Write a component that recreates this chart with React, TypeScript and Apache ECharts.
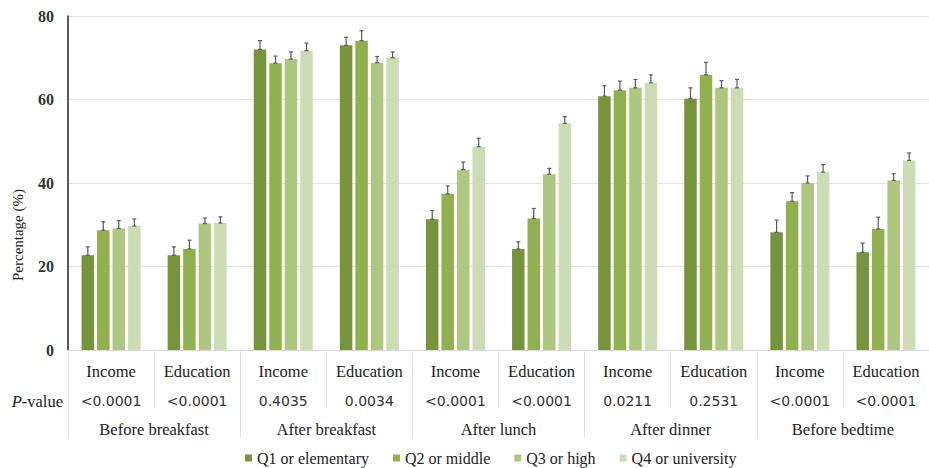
import React, { useEffect, useRef } from "react";
import * as echarts from "echarts";

const groups = ["Before breakfast", "After breakfast", "After lunch", "After dinner", "Before bedtime"];
const subCategories = ["Income", "Education", "Income", "Education", "Income", "Education", "Income", "Education", "Income", "Education"];
const pValues = ["<0.0001", "<0.0001", "0.4035", "0.0034", "<0.0001", "<0.0001", "0.0211", "0.2531", "<0.0001", "<0.0001"];
const seriesNames = ["Q1 or elementary", "Q2 or middle", "Q3 or high", "Q4 or university"];
const colors = ["#77933c", "#92b04f", "#aec67f", "#cddcb5"];

const q1 = [22.7, 22.7, 72.0, 73.0, 31.3, 24.2, 60.8, 60.2, 28.2, 23.4];
const q2 = [28.7, 24.2, 68.7, 74.1, 37.4, 31.5, 62.2, 65.9, 35.6, 29.0];
const q3 = [29.1, 30.3, 69.7, 68.8, 43.2, 42.1, 62.8, 62.8, 40.0, 40.6];
const q4 = [29.7, 30.4, 71.7, 70.0, 48.7, 54.3, 64.0, 62.8, 42.6, 45.4];

const e1 = [2.0, 2.0, 2.1, 1.9, 2.1, 1.7, 2.5, 2.6, 2.9, 2.2];
const e2 = [2.0, 2.1, 1.7, 2.4, 1.9, 2.4, 2.2, 3.0, 2.1, 2.8];
const e3 = [1.9, 1.3, 1.7, 1.5, 1.8, 1.4, 2.0, 1.7, 1.7, 1.6];
const e4 = [1.7, 1.5, 1.8, 1.4, 2.0, 1.6, 1.9, 2.0, 1.8, 1.8];

const yTicks = { min: 0, max: 80, interval: 20 };

const SERIF = "Liberation Serif";
const SANS = "DejaVu Sans";
const BAR_W = 12.5;
const BAR_GAP = 0.24;

export default function App() {
  const ref = useRef<HTMLDivElement>(null);
  useEffect(() => {
    if (!ref.current) return;
    const chart = echarts.init(ref.current, undefined, { renderer: "svg" });
    const values = [q1, q2, q3, q4];
    const errs = [e1, e2, e3, e4];
    const errData: number[][] = [];
    values.forEach((arr, s) => arr.forEach((v, i) => errData.push([i, v, errs[s][i], s])));

    const step = BAR_W * (1 + BAR_GAP);

    const option: any = {
      animation: false,
      backgroundColor: "#ffffff",
      grid: { left: 68, right: -5, top: 16, bottom: 118 },
      legend: {
        data: seriesNames,
        left: 240,
        top: 445,
        icon: "rect",
        itemWidth: 7,
        itemHeight: 7,
        itemGap: 24,
        textStyle: { fontFamily: SERIF, fontSize: 16, color: "#222" },
      },
      xAxis: [
        {
          type: "category",
          data: subCategories,
          position: "bottom",
          axisLine: { show: true, lineStyle: { color: "#d9d9d9", width: 1 } },
          axisTick: { show: true, length: 58, lineStyle: { color: "#e0e0e0" } },
          axisLabel: { fontFamily: SERIF, fontSize: 16.5, color: "#222", margin: 13, interval: 0 },
        },
        {
          type: "category",
          data: groups,
          position: "bottom",
          axisLine: { show: false },
          axisTick: { show: true, length: 88, lineStyle: { color: "#e0e0e0" } },
          axisLabel: { fontFamily: SERIF, fontSize: 16.5, color: "#222", margin: 71, interval: 0 },
        },
        {
          type: "category",
          data: pValues,
          position: "bottom",
          axisLine: { show: false },
          axisTick: { show: false },
          axisLabel: { fontFamily: SANS, fontSize: 14, color: "#333", margin: 44, interval: 0 },
        },
      ],
      yAxis: {
        type: "value",
        min: yTicks.min,
        max: yTicks.max,
        interval: yTicks.interval,
        axisLine: { show: true, lineStyle: { color: "#222", width: 1.5 } },
        axisTick: { show: false },
        axisLabel: { fontFamily: SERIF, fontSize: 16, fontWeight: "bold", color: "#333", margin: 14 },
        splitLine: { lineStyle: { color: "#e3e3e3" } },
      },
      graphic: [
        {
          type: "text",
          x: 18,
          y: 235,
          rotation: Math.PI / 2,
          style: { text: "Percentage (%)", fontFamily: SERIF, fontSize: 15, fill: "#222", align: "center", verticalAlign: "middle" },
        },
        {
          type: "text",
          x: 63,
          y: 401,
          style: {
            text: "{i|P}-value",
            fontFamily: SERIF,
            fontSize: 16.5,
            fill: "#222",
            align: "right",
            verticalAlign: "middle",
            rich: { i: { fontStyle: "italic", fontFamily: SERIF, fontSize: 16.5, fill: "#222" } },
          },
        },
      ],
      series: [
        ...values.map((arr, s) => ({
          name: seriesNames[s],
          type: "bar",
          data: arr,
          barWidth: BAR_W,
          barGap: `${BAR_GAP * 100}%`,
          itemStyle: { color: colors[s] },
          xAxisIndex: 0,
        })),
        {
          type: "custom",
          name: "err",
          xAxisIndex: 0,
          data: errData,
          encode: { x: 0, y: 1 },
          z: 10,
          renderItem: (params: any, api: any) => {
            const ci = api.value(0);
            const v = api.value(1);
            const e = api.value(2);
            const s = api.value(3);
            const base = api.coord([ci, v]);
            const top = api.coord([ci, v + e]);
            const x = base[0] + (s - 1.5) * step;
            const st = { stroke: "#5a5a5a", lineWidth: 1.2 };
            return {
              type: "group",
              children: [
                { type: "line", shape: { x1: x, y1: base[1], x2: x, y2: top[1] }, style: st },
                { type: "line", shape: { x1: x - 2, y1: top[1], x2: x + 2, y2: top[1] }, style: st },
                { type: "line", shape: { x1: x - 2, y1: base[1], x2: x + 2, y2: base[1] }, style: st },
              ],
            };
          },
        },
      ],
    };
    chart.setOption(option);
    return () => chart.dispose();
  }, []);
  return <div ref={ref} style={{ position: "fixed", left: 0, top: 0, width: 929, height: 468 }} />;
}
